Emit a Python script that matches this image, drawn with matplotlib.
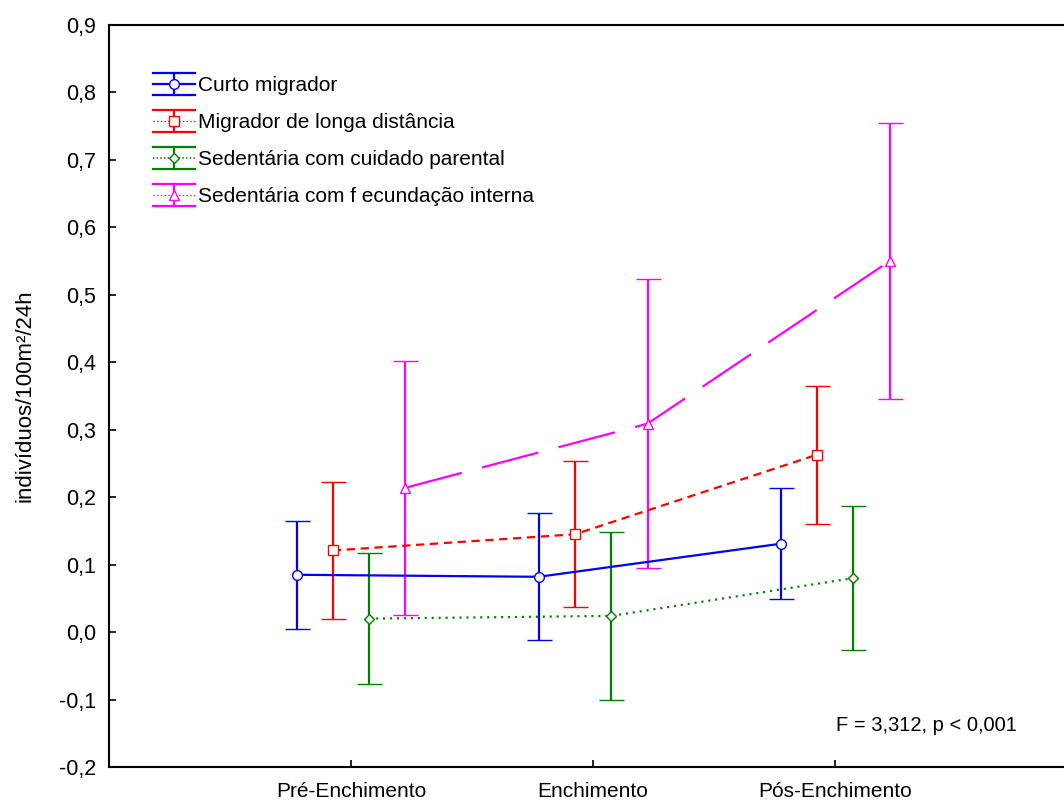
import matplotlib
matplotlib.use("Agg")
import matplotlib.pyplot as plt
import numpy as np
from matplotlib.legend_handler import HandlerBase
from matplotlib.lines import Line2D

plt.rcParams['font.family'] = ['Liberation Sans', 'DejaVu Sans']
plt.rcParams['lines.scale_dashes'] = False

# Period categories and group means with confidence half-widths
periods = ["Pré-Enchimento", "Enchimento", "Pós-Enchimento"]
groups = ["Curto migrador", "Migrador de longa distância",
          "Sedentária com cuidado parental", "Sedentária com f ecundação interna"]

curto_mean = [0.085, 0.082, 0.131]
curto_err = [0.080, 0.094, 0.082]
longa_mean = [0.121, 0.145, 0.263]
longa_err = [0.102, 0.108, 0.102]
parental_mean = [0.020, 0.024, 0.080]
parental_err = [0.097, 0.124, 0.107]
interna_mean = [0.214, 0.309, 0.550]
interna_err = [0.188, 0.214, 0.205]

means = [curto_mean, longa_mean, parental_mean, interna_mean]
errs = [curto_err, longa_err, parental_err, interna_err]

colors = ["#0000ff", "#ff0000", "#008000", "#ff00ff"]
markers = ["o", "s", "D", "^"]
msizes = [7, 6.5, 5.5, 6.5]
styles = ["-", (0, (6, 4)), (0, (1.5, 3.5)), (0, (42, 15))]
legend_styles = ["-", ":", ":", ":"]
legend_widths = [1.6, 0.9, 1.2, 0.9]
offsets = [-0.225, -0.075, 0.075, 0.225]


class WideCapHandler(HandlerBase):
    """Legend key: horizontal line, marker, vertical bar and caps spanning the key."""

    def __init__(self, style, lw, **kw):
        super().__init__(**kw)
        self.style = style
        self.lw = lw

    def create_artists(self, legend, orig_handle, xdescent, ydescent,
                       width, height, fontsize, trans):
        data_line = orig_handle[0]
        c = data_line.get_color()
        x0, x1 = -xdescent, width - xdescent
        y0, y1 = -ydescent, height - ydescent
        xm, ym = (x0 + x1) / 2, (y0 + y1) / 2
        arts = [
            Line2D([x0, x1], [ym, ym], color=c, lw=self.lw, linestyle=self.style),
            Line2D([xm, xm], [y0, y1], color=c, lw=1.6),
            Line2D([x0, x1], [y0, y0], color=c, lw=1.6),
            Line2D([x0, x1], [y1, y1], color=c, lw=1.6),
            Line2D([xm], [ym], marker=data_line.get_marker(),
                   markersize=data_line.get_markersize(), markerfacecolor="white",
                   markeredgecolor=c, markeredgewidth=1.0, linestyle="none"),
        ]
        for a in arts:
            a.set_transform(trans)
        return arts


fig = plt.figure(figsize=(10.64, 8.05), dpi=100)
ax = fig.add_axes([0.1024, 0.0472, 0.910, 0.9217])

x = np.arange(1, len(periods) + 1)
handles = []
for m, e, c, mk, ms, ls, off, lab in zip(means, errs, colors, markers, msizes,
                                         styles, offsets, groups):
    h = ax.errorbar(x + off, m, yerr=e, color=c, ecolor=c, elinewidth=1.6,
                    capsize=9, capthick=1.6, linewidth=1.6, linestyle=ls,
                    marker=mk, markersize=ms, markerfacecolor="white",
                    markeredgecolor=c, markeredgewidth=1.0, label=lab, zorder=3)
    handles.append(h)

ax.set_xlim(0, 4)
ax.set_ylim(-0.2, 0.9)
ax.set_xticks(x)
ax.set_xticklabels(periods, fontsize=15)
yt = np.round(np.arange(-0.2, 0.91, 0.1), 1)
ax.set_yticks(yt)
ax.set_yticklabels([f"{v:.1f}".replace(".", ",") for v in yt], fontsize=15.5)
ax.tick_params(direction="in", length=5, width=1.2)
ax.tick_params(axis="y", pad=9)
ax.tick_params(axis="x", pad=11)
for s in ax.spines.values():
    s.set_linewidth(1.5)

ax.set_ylabel("indivíduos/100m²/24h", fontsize=16, va="center")
ax.yaxis.set_label_coords(-0.087, 0.5)

ax.text(0.938, 0.0566, "F = 3,312, p < 0,001", transform=ax.transAxes,
        ha="right", va="center", fontsize=14.5)

hmap = {h: WideCapHandler(s, w) for h, s, w in zip(handles, legend_styles, legend_widths)}
leg = ax.legend(handles=handles, loc="upper left", bbox_to_anchor=(0.0455, 0.936),
                frameon=False, fontsize=15, handlelength=2.0, handleheight=1.25,
                handletextpad=0.15, labelspacing=0.72, borderaxespad=0, borderpad=0,
                handler_map=hmap)

fig.savefig("out.png", dpi=100)
